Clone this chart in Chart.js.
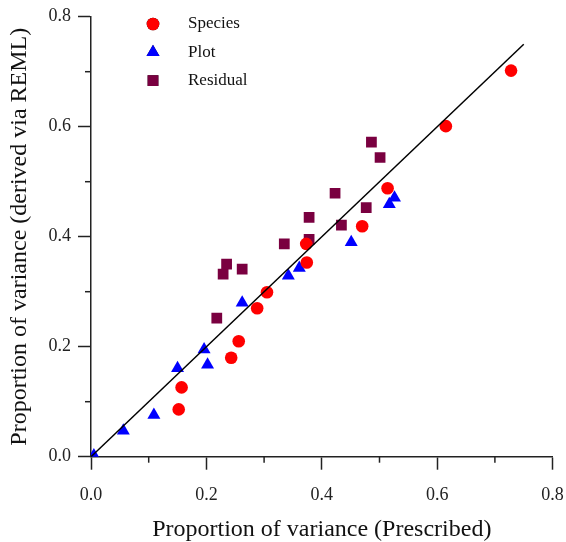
<!DOCTYPE html>
<html>
<head>
<meta charset="utf-8">
<script src="https://cdn.jsdelivr.net/npm/chart.js@4"></script>
<style>
  html, body { margin: 0; padding: 0; background: #fff; }
  #wrap { width: 566px; height: 542px; }
</style>
</head>
<body>
<div id="wrap"><canvas id="varChart" width="566" height="542"></canvas></div>
<script>
// values
const speciesX = [0.152, 0.157, 0.243, 0.256, 0.288, 0.305, 0.374, 0.373, 0.470, 0.514, 0.615, 0.728];
const speciesY = [0.086, 0.126, 0.180, 0.210, 0.270, 0.299, 0.353, 0.387, 0.419, 0.488, 0.601, 0.702];
const plotX = [0.005, 0.056, 0.109, 0.150, 0.196, 0.202, 0.262, 0.342, 0.361, 0.451, 0.517, 0.526];
const plotY = [0.002, 0.047, 0.076, 0.161, 0.195, 0.167, 0.280, 0.329, 0.343, 0.390, 0.459, 0.471];
const residualX = [0.218, 0.229, 0.235, 0.262, 0.335, 0.378, 0.378, 0.423, 0.434, 0.477, 0.486, 0.501];
const residualY = [0.252, 0.332, 0.350, 0.341, 0.387, 0.395, 0.435, 0.479, 0.421, 0.453, 0.572, 0.544];
const lineX = [0, 0.75];
const lineY = [0, 0.75];
const majorTicks = [0, 0.2, 0.4, 0.6, 0.8];

const serif = 'Liberation Serif';

function pts(xs, ys) {
  return xs.map((x, i) => ({x: x, y: ys[i]}));
}

function isMajor(v) {
  return majorTicks.some(m => Math.abs(m - v) < 1e-6);
}

// short unlabeled ticks at the 0.1 steps
const minorTicks = {
  id: 'minorTicks',
  afterDraw(chart) {
    const ctx = chart.ctx;
    const xs = chart.scales.x, ys = chart.scales.y;
    ctx.save();
    ctx.strokeStyle = '#222';
    ctx.lineWidth = 1.5;
    xs.ticks.forEach(t => {
      if (isMajor(t.value)) return;
      const px = xs.getPixelForValue(t.value);
      ctx.beginPath();
      ctx.moveTo(px, xs.top);
      ctx.lineTo(px, xs.top + 6);
      ctx.stroke();
    });
    ys.ticks.forEach(t => {
      if (isMajor(t.value)) return;
      const py = ys.getPixelForValue(t.value);
      ctx.beginPath();
      ctx.moveTo(ys.right, py);
      ctx.lineTo(ys.right - 6, py);
      ctx.stroke();
    });
    ctx.restore();
  }
};

// legend inside the plot, top-left
const insideLegend = {
  id: 'insideLegend',
  afterDraw(chart) {
    const ctx = chart.ctx;
    ctx.save();
    let row = 0;
    chart.data.datasets.forEach(ds => {
      if (ds.type === 'line') return;
      const y = 24 + row * 28.3;
      Chart.helpers.drawPoint(ctx, {
        pointStyle: ds.pointStyle,
        radius: ds.pointRadius,
        rotation: 0,
        borderWidth: 0
      }, 153, y);
      ctx.fillStyle = ds.backgroundColor;
      ctx.fill();
      ctx.fillStyle = '#111';
      ctx.font = '17px "' + serif + '"';
      ctx.textBaseline = 'middle';
      ctx.fillText(ds.label, 188, y);
      row++;
    });
    ctx.restore();
  }
};

const axisCommon = {
  type: 'linear',
  min: 0,
  max: 0.8,
  border: { display: true, color: '#222', width: 1.5 },
  grid: {
    drawOnChartArea: false,
    tickLength: 13,
    tickWidth: 1.5,
    tickColor: c => isMajor(c.tick.value) ? '#222' : 'rgba(0,0,0,0)'
  }
};

new Chart(document.getElementById('varChart'), {
  type: 'scatter',
  data: {
    datasets: [
      {
        type: 'line',
        label: '1:1',
        data: pts(lineX, lineY),
        borderColor: '#000',
        borderWidth: 1.5,
        pointRadius: 0,
        order: 0
      },
      {
        label: 'Species',
        data: pts(speciesX, speciesY),
        pointStyle: 'circle',
        pointRadius: 6.3,
        backgroundColor: '#ff0000',
        borderWidth: 0,
        order: 1
      },
      {
        label: 'Plot',
        data: pts(plotX, plotY),
        pointStyle: 'triangle',
        pointRadius: 7.5,
        backgroundColor: '#0000ff',
        borderWidth: 0,
        order: 2
      },
      {
        label: 'Residual',
        data: pts(residualX, residualY),
        pointStyle: 'rect',
        pointRadius: 7.6,
        backgroundColor: '#7a0040',
        borderWidth: 0,
        order: 3
      }
    ]
  },
  options: {
    responsive: false,
    animation: false,
    layout: { padding: { top: 16.7, right: 13.4, left: 0, bottom: 0 } },
    plugins: { legend: { display: false }, tooltip: { enabled: false } },
    scales: {
      x: Object.assign({}, axisCommon, {
        position: 'bottom',
        afterFit: s => { s.height = 85.3; s.paddingLeft = 0; s.paddingRight = 0; },
        ticks: {
          stepSize: 0.1,
          autoSkip: false,
          maxRotation: 0,
          padding: 15,
          color: '#222',
          font: { family: serif, size: 18 },
          callback: v => isMajor(v) ? v.toFixed(1) : ''
        },
        title: {
          display: true,
          text: 'Proportion of variance (Prescribed)',
          color: '#111',
          font: { family: serif, size: 24, lineHeight: 1 },
          padding: { top: 0, bottom: 0 }
        }
      }),
      y: Object.assign({}, axisCommon, {
        position: 'left',
        afterFit: s => { s.width = 91; s.paddingTop = 0; s.paddingBottom = 0; },
        ticks: {
          stepSize: 0.1,
          autoSkip: false,
          padding: 7,
          color: '#222',
          font: { family: serif, size: 18 },
          callback: v => isMajor(v) ? v.toFixed(1) : ''
        },
        title: {
          display: true,
          text: 'Proportion of variance (derived via REML)',
          color: '#111',
          font: { family: serif, size: 24, lineHeight: 1 },
          padding: { top: 8, bottom: 0 }
        }
      })
    }
  },
  plugins: [minorTicks, insideLegend]
});
</script>
</body>
</html>
